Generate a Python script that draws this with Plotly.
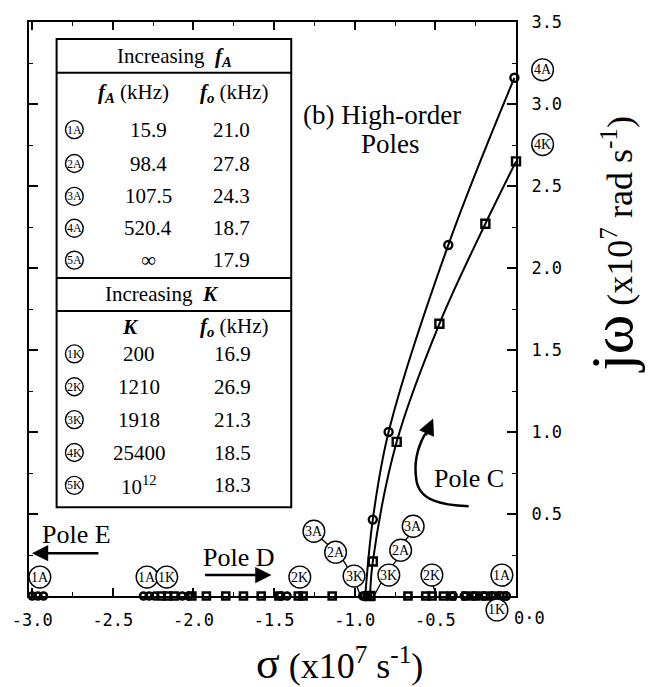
import plotly.graph_objects as go

# ---------------- data ----------------
# complex-pole loci (sigma, j*omega) in units of 1e7
circ_sigma = [-0.935, -0.888, -0.790, -0.420, -0.010]
circ_omega = [0.0, 0.466, 1.000, 2.140, 3.160]
sq_sigma = [-0.905, -0.888, -0.740, -0.475, -0.190, 0.000]
sq_omega = [0.0, 0.210, 0.940, 1.660, 2.270, 2.650]

# real-axis poles
real_circ_sigma = [-3.00, -2.965, -2.93, -2.31, -2.275, -2.24, -2.07, -2.03,
                   -1.46, -1.42, -0.95, -0.92, -0.39, -0.32, -0.26, -0.20,
                   -0.15, -0.10, -0.06]
real_sq_sigma = [-2.20, -2.16, -2.12, -2.01, -1.92, -1.80, -1.69, -1.58,
                 -1.47, -1.35, -1.32, -1.14, -0.90, -0.67, -0.56, -0.52,
                 -0.45, -0.40, -0.31, -0.25, -0.19, -0.13, -0.08]

x_tickvals = [-3.0, -2.5, -2.0, -1.5, -1.0, -0.5]
x_ticktext = ["-3.0", "-2.5", "-2.0", "-1.5", "-1.0", "-0.5"]
y_tickvals = [0.5, 1.0, 1.5, 2.0, 2.5, 3.0, 3.5]
y_ticktext = ["0.5", "1.0", "1.5", "2.0", "2.5", "3.0", "3.5"]

# table content
tabA_ids = ["1A", "2A", "3A", "4A", "5A"]
tabA_fA = ["15.9", "98.4", "107.5", "520.4", "∞"]
tabA_fo = ["21.0", "27.8", "24.3", "18.7", "17.9"]
tabK_ids = ["1K", "2K", "3K", "4K", "5K"]
tabK_K = ["200", "1210", "1918", "25400", "10<sup>12</sup>"]
tabK_fo = ["16.9", "26.9", "21.3", "18.5", "18.3"]

# circled point labels on the plot (text)
pt_labels = ["1A", "1A", "1K", "2K", "3A", "2A", "3K", "3K", "2A", "3A",
             "2K", "1A", "1K", "4A", "4K"]

# ---------------- layout helpers (pixel -> paper) ----------------
L, R, T, B = 22, 516, 20, 596
XMIN, XMAX, YMIN, YMAX = -3.02, 0.0, 0.0, 3.5


def PX(px):
    return (px - L) / (R - L)


def PY(py):
    return (B - py) / (B - T)


SERIF = "Liberation Serif"
MONO = "DejaVu Sans Mono"

fig = go.Figure()

# loci curves
fig.add_trace(go.Scatter(x=circ_sigma, y=circ_omega, mode="lines+markers",
                         line=dict(color="black", width=2, shape="spline"),
                         marker=dict(symbol="circle-open", size=8, color="black",
                                     line=dict(width=2.4)),
                         cliponaxis=False, showlegend=False))
fig.add_trace(go.Scatter(x=sq_sigma, y=sq_omega, mode="lines+markers",
                         line=dict(color="black", width=2, shape="spline"),
                         marker=dict(symbol="square-open", size=8, color="black",
                                     line=dict(width=2.4)),
                         cliponaxis=False, showlegend=False))
# real-axis poles
fig.add_trace(go.Scatter(x=real_circ_sigma, y=[0] * len(real_circ_sigma), mode="markers",
                         marker=dict(symbol="circle-open", size=7, color="black",
                                     line=dict(width=2.6)),
                         cliponaxis=False, showlegend=False))
fig.add_trace(go.Scatter(x=real_sq_sigma, y=[0] * len(real_sq_sigma), mode="markers",
                         marker=dict(symbol="square-open", size=7, color="black",
                                     line=dict(width=2.6)),
                         cliponaxis=False, showlegend=False))

shapes = []
ann = []


def line_px(x0, y0, x1, y1, w=1.3):
    shapes.append(dict(type="line", xref="paper", yref="paper",
                       x0=PX(x0), y0=PY(y0), x1=PX(x1), y1=PY(y1),
                       line=dict(color="black", width=w)))


def circle_label(px, py, s, r=11, size=14):
    shapes.append(dict(type="circle", xref="paper", yref="paper",
                       x0=PX(px - r), x1=PX(px + r), y0=PY(py + r), y1=PY(py - r),
                       line=dict(color="black", width=1.4), fillcolor="white"))
    ann.append(dict(x=PX(px), y=PY(py), xref="paper", yref="paper", text=s,
                    showarrow=False, xanchor="center", yanchor="middle",
                    font=dict(family=SERIF, size=size, color="black")))


def txt(px, py, s, size=20, xanchor="center", family=SERIF, **kw):
    ann.append(dict(x=PX(px), y=PY(py), xref="paper", yref="paper", text=s, showarrow=False,
                    xanchor=xanchor, yanchor="middle",
                    font=dict(family=family, size=size, color="black"), **kw))


# connectors from labels to points
for seg in [((318, 538), (326, 545)), ((340, 559), (345, 567)), ((355, 587), (358, 596)),
            ((408, 535), (403, 541)), ((395, 560), (391, 565)), ((379, 583), (373, 594)),
            ((432, 586), (435, 595))]:
    line_px(seg[0][0], seg[0][1], seg[1][0], seg[1][1])

# circled labels on plot
lab_px = [(33, 577), (141.7, 577), (161.7, 577), (296.7, 577), (311, 531), (333, 552),
          (351.7, 576), (387, 575), (399, 550), (411.7, 526), (430.7, 575), (501.7, 575),
          (496.7, 610), (543, 68), (543, 143)]
for (p, s) in zip(lab_px, pt_labels):
    circle_label(p[0], p[1], s)

# ---------------- table ----------------
TL, TR, TT, TB = 50, 288, 37, 507
shapes.append(dict(type="rect", xref="paper", yref="paper", x0=PX(TL), x1=PX(TR),
                   y0=PY(TB), y1=PY(TT), line=dict(color="black", width=2),
                   fillcolor="white", layer="below"))
for yy in (71, 277, 310):
    line_px(TL, yy, TR, yy, 2)

fA = "<b><i>f</i></b><sub><b><i>A</i></b></sub>"
fo = "<b><i>f</i></b><sub><b><i>o</i></b></sub>"
txt(170, 55, "Increasing  " + fA, 21)
txt(128, 91, fA + " (kHz)", 21)
txt(230, 91, fo + " (kHz)", 21)
rowsA = [128, 162, 195, 227, 259]
rowsK = [353, 386, 419, 452, 485]
for i, yy in enumerate(rowsA):
    circle_label(68, yy, tabA_ids[i], r=9, size=12)
    txt(143, yy, tabA_fA[i], 21)
    txt(227, yy, tabA_fo[i], 21)
txt(157, 293, "Increasing  <b><i>K</i></b>", 21)
txt(125, 326, "<b><i>K</i></b>", 21)
txt(230, 326, fo + " (kHz)", 21)
for i, yy in enumerate(rowsK):
    circle_label(68, yy, tabK_ids[i], r=9, size=12)
    txt(134, yy, tabK_K[i], 21)
    txt(228, yy, tabK_fo[i], 21)

# ---------------- annotations ----------------
txt(380, 113, "(b) High-order", 27)
txt(389, 142, "Poles", 27)
txt(468, 478, "Pole C", 26)
txt(70, 534, "Pole E", 26)
txt(235, 557, "Pole D", 26)

# Pole C curved arrow
path = "M {},{} C {},{} {},{} {},{} C {},{} {},{} {},{}".format(
    PX(468), PY(506),
    PX(440), PY(505), PX(418), PY(500), PX(415), PY(480),
    PX(412), PY(462), PX(417), PY(445), PX(424), PY(433))
shapes.append(dict(type="path", xref="paper", yref="paper", path=path,
                   line=dict(color="black", width=2.5)))


def arrow(tipx, tipy, tailx, taily):
    ann.append(dict(x=PX(tipx), y=PY(tipy), ax=tailx - tipx, ay=taily - tipy,
                    xref="paper", yref="paper", axref="pixel", ayref="pixel",
                    text="", showarrow=True, arrowhead=2,
                    arrowsize=1.3, arrowwidth=2.5, arrowcolor="black"))


arrow(432, 418, 424, 436)
arrow(25, 553, 93, 553)
arrow(268, 575, 200, 575)

# 0.0 label
txt(530, 618, "0·0", 17, family=MONO)

# axis titles
ann.append(dict(x=PX(337), y=PY(664), xref="paper", yref="paper", showarrow=False,
                xanchor="center", yanchor="middle",
                text="<span style='font-size:44px'>σ</span> (x10<sup>7</sup> s<sup>-1</sup>)",
                font=dict(family=SERIF, size=36, color="black")))
ann.append(dict(x=PX(614), y=PY(243), xref="paper", yref="paper", showarrow=False,
                xanchor="center", yanchor="middle", textangle=-90,
                text="<span style='font-size:60px'>jω</span> (x10<sup>7</sup> rad s<sup>-1</sup>)",
                font=dict(family=SERIF, size=36, color="black")))

fig.update_layout(
    width=652, height=687,
    margin=dict(l=L, r=652 - R, t=T, b=687 - B),
    paper_bgcolor="white", plot_bgcolor="white",
    shapes=shapes, annotations=ann, showlegend=False,
    xaxis=dict(range=[XMIN, XMAX], showgrid=False, zeroline=False,
               showline=True, linecolor="black", linewidth=2, mirror="ticks",
               ticks="inside", ticklen=8, tickwidth=1.5, tickcolor="black",
               tickvals=x_tickvals, ticktext=x_ticktext,
               minor=dict(tickvals=[-2.75, -2.25, -1.75, -1.25, -0.75, -0.25],
                          ticks="inside", ticklen=4, tickcolor="black", tickwidth=1.2),
               tickfont=dict(family=MONO, size=17, color="black"),
               ticklabelstandoff=8),
    yaxis=dict(range=[YMIN, YMAX], side="right", showgrid=False, zeroline=False,
               showline=True, linecolor="black", linewidth=2, mirror="ticks",
               ticks="inside", ticklen=9, tickwidth=1.5, tickcolor="black",
               tickvals=y_tickvals, ticktext=y_ticktext,
               minor=dict(tickvals=[0.25, 0.75, 1.25, 1.75, 2.25, 2.75, 3.25],
                          ticks="inside", ticklen=4, tickcolor="black", tickwidth=1.2),
               tickfont=dict(family=MONO, size=17, color="black"),
               ticklabelstandoff=10),
)

fig.write_html("out.html")
